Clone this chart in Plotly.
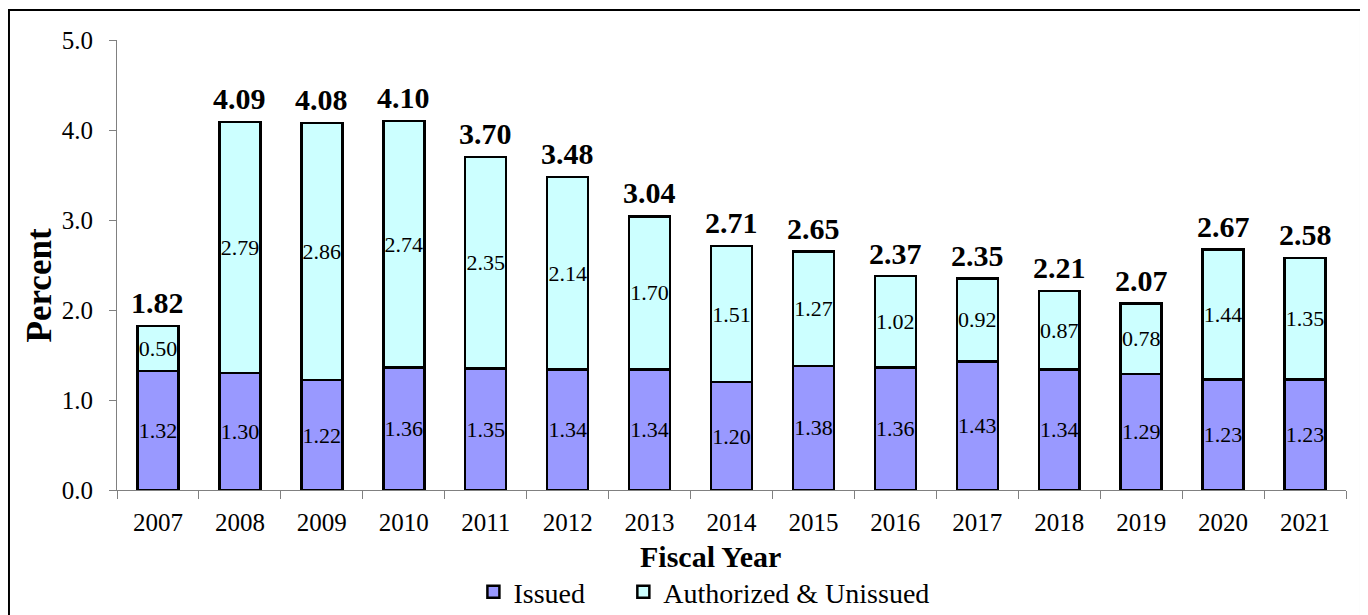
import plotly.graph_objects as go

years = ["2007", "2008", "2009", "2010", "2011", "2012", "2013", "2014",
         "2015", "2016", "2017", "2018", "2019", "2020", "2021"]
issued = [1.32, 1.30, 1.22, 1.36, 1.35, 1.34, 1.34, 1.20, 1.38, 1.36, 1.43, 1.34, 1.29, 1.23, 1.23]
authorized = [0.50, 2.79, 2.86, 2.74, 2.35, 2.14, 1.70, 1.51, 1.27, 1.02, 0.92, 0.87, 0.78, 1.44, 1.35]
totals = [1.82, 4.09, 4.08, 4.10, 3.70, 3.48, 3.04, 2.71, 2.65, 2.37, 2.35, 2.21, 2.07, 2.67, 2.58]

FONT = "Liberation Serif, Times New Roman, Times, DejaVu Serif, serif"
INNER = dict(family=FONT, size=22, color="black")

fig = go.Figure()
fig.add_trace(go.Bar(
    x=years, y=issued, name="Issued", legend="legend",
    marker=dict(color="#9999FF", line=dict(color="black", width=2.5)),
    text=[f"{v:.2f}" for v in issued], textposition="inside",
    insidetextanchor="middle", constraintext="none", textangle=0,
    textfont=INNER, insidetextfont=INNER,
))
fig.add_trace(go.Bar(
    x=years, y=authorized, name="Authorized & Unissued", legend="legend2",
    marker=dict(color="#CCFFFF", line=dict(color="black", width=2.5)),
    text=[f"{v:.2f}" for v in authorized], textposition="inside",
    insidetextanchor="middle", constraintext="none", textangle=0,
    textfont=INNER, insidetextfont=INNER,
))

for i, t in enumerate(totals):
    fig.add_annotation(x=i, y=t, text=f"<b>{t:.2f}</b>", showarrow=False,
                       yanchor="bottom", yshift=5,
                       font=dict(family=FONT, size=30, color="black"))

# axis titles
fig.add_annotation(xref="paper", yref="paper", x=0.4833, y=-0.1487,
                   text="<b>Fiscal Year</b>", showarrow=False,
                   xanchor="center", yanchor="middle",
                   font=dict(family=FONT, size=30, color="black"))
fig.add_annotation(xref="paper", yref="paper", x=-0.0627, y=0.4544,
                   text="<b>Percent</b>", showarrow=False, textangle=-90,
                   xanchor="center", yanchor="middle",
                   font=dict(family=FONT, size=35, color="black"))

fig.add_shape(type="rect", xref="paper", yref="paper",
              x0=-0.0879, x1=1.0122, y0=-0.32, y1=1.0667,
              line=dict(color="black", width=2), fillcolor="rgba(0,0,0,0)")

LEG = dict(orientation="h", xanchor="left", yref="container", y=0.0505, yanchor="middle",
           font=dict(family=FONT, size=28), bgcolor="rgba(0,0,0,0)")

fig.update_layout(
    width=1368, height=615,
    barmode="stack", bargap=0.5,
    plot_bgcolor="white", paper_bgcolor="white",
    margin=dict(l=109, r=30, t=32, b=133),
    font=dict(family=FONT, size=25, color="black"),
    showlegend=True,
    legend=dict(x=0.2900, **LEG),
    legend2=dict(x=0.4120, **LEG),
)
fig.update_xaxes(
    type="category", range=[-0.5, 14.5], showline=True, linecolor="#808080", linewidth=1,
    ticks="outside", tickson="boundaries", ticklen=8, tickcolor="#808080",
    tickfont=dict(family=FONT, size=25), tickangle=0, ticklabelstandoff=10,
    showgrid=False, automargin=False,
)
fig.update_yaxes(
    range=[0, 5], dtick=1, tickformat=".1f",
    showline=True, linecolor="#808080", linewidth=1,
    ticks="outside", ticklen=7, tickcolor="#808080",
    tickfont=dict(family=FONT, size=25), ticklabelstandoff=11,
    showgrid=False, zeroline=False, automargin=False,
)

fig.write_html("out.html")
